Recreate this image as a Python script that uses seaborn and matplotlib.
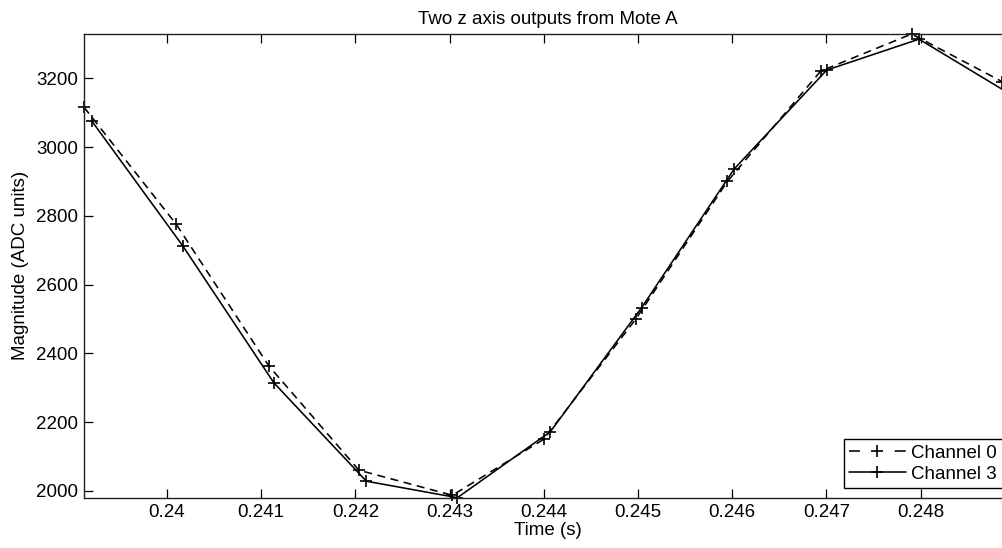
import numpy as np
import pandas as pd
import matplotlib
matplotlib.use("Agg")
import matplotlib.pyplot as plt
import seaborn as sns
from matplotlib.ticker import FixedLocator, FixedFormatter

# ---- data ----
time_ch0 = [0.23912, 0.24010, 0.241083, 0.242038, 0.24303, 0.24400,
            0.244975, 0.245949, 0.246939, 0.247905, 0.248868]
mag_ch0 = [3116, 2775, 2363, 2060, 1987, 2150, 2499, 2900, 3221, 3329, 3190]

time_ch3 = [0.23920, 0.24017, 0.241136, 0.242117, 0.243083, 0.24407,
            0.245039, 0.24602, 0.247003, 0.247983, 0.24897]
mag_ch3 = [3077, 2712, 2314, 2028, 1980, 2172, 2533, 2936, 3224, 3314, 3151]

x_ticks = [0.240, 0.241, 0.242, 0.243, 0.244, 0.245, 0.246, 0.247, 0.248]
x_tick_labels = ["0.24", "0.241", "0.242", "0.243", "0.244", "0.245", "0.246", "0.247", "0.248"]
y_ticks = [2000, 2200, 2400, 2600, 2800, 3000, 3200]
y_tick_labels = ["2000", "2200", "2400", "2600", "2800", "3000", "3200"]

series_names = ["Channel 0", "Channel 3"]
title = "Two z axis outputs from Mote A"
x_label = "Time (s)"
y_label = "Magnitude (ADC units)"

# ---- style ----
sns.set_style("ticks")
plt.rcParams["font.family"] = ["Liberation Sans", "DejaVu Sans"]
FS = 13.5
plt.rcParams.update({"font.size": FS, "text.color": "black",
                     "axes.labelcolor": "black", "xtick.color": "black",
                     "ytick.color": "black", "axes.edgecolor": "black"})

fig = plt.figure(figsize=(10.03, 5.48), dpi=100)
ax = fig.add_axes([84 / 1003, 1 - 497.7 / 548, (1012 - 84) / 1003, (497.7 - 34) / 548])

df0 = pd.DataFrame({"t": time_ch0, "m": mag_ch0})
df3 = pd.DataFrame({"t": time_ch3, "m": mag_ch3})

common = dict(color="black", marker="+", markersize=8, markeredgewidth=1.2,
              markeredgecolor="black", markerfacecolor="black",
              linewidth=1.15, ax=ax, sort=False, clip_on=False)
sns.lineplot(data=df0, x="t", y="m", linestyle=(0, (5, 3.5)), label=series_names[0], **common)
sns.lineplot(data=df3, x="t", y="m", linestyle="-", label=series_names[1], **common)

ax.set_xlim(min(time_ch0 + time_ch3), max(time_ch0 + time_ch3))
ax.set_ylim(min(mag_ch0 + mag_ch3), max(mag_ch0 + mag_ch3))

ax.xaxis.set_major_locator(FixedLocator(x_ticks))
ax.xaxis.set_major_formatter(FixedFormatter(x_tick_labels))
ax.yaxis.set_major_locator(FixedLocator(y_ticks))
ax.yaxis.set_major_formatter(FixedFormatter(y_tick_labels))

ax.tick_params(direction="in", length=6.3, width=0.9, colors="black",
               labelsize=FS, pad=4.5, top=True, right=True)
for sp in ax.spines.values():
    sp.set_visible(True)
    sp.set_color("#222222")
    sp.set_linewidth(1.0)

ax.set_title(title, fontsize=FS, pad=7, color="black")
ax.set_xlabel(x_label, fontsize=FS, labelpad=1)
ax.set_ylabel(y_label, fontsize=FS, labelpad=5)

leg = ax.legend(loc="lower right", fontsize=FS, frameon=True, fancybox=False,
                framealpha=1, edgecolor="black", handlelength=3.0,
                handletextpad=0.3, borderaxespad=0.5, borderpad=0.3,
                labelspacing=0.2)
leg.get_frame().set_linewidth(1.0)
leg_lines = leg.get_lines()
if leg_lines:
    leg_lines[0].set_linestyle((0, (6.9, 21.7)))

fig.savefig("out.png", dpi=100)
